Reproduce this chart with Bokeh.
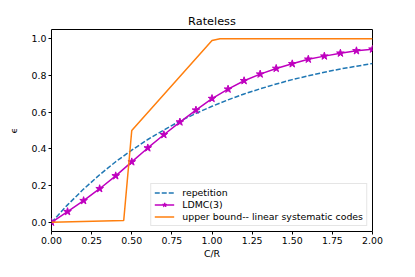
from bokeh.plotting import figure
from bokeh.models import Range1d, FixedTicker, Legend, LegendItem
from bokeh.embed import file_html
from bokeh.resources import INLINE

# ---- data ----
rep_x = [0.0, 0.1, 0.2, 0.3, 0.4, 0.5, 0.6, 0.7, 0.8, 0.9, 1.0,
         1.1, 1.2, 1.3, 1.4, 1.5, 1.6, 1.7, 1.8, 1.9, 2.0]
rep_y = [0.0, 0.095, 0.181, 0.259, 0.330, 0.393, 0.451, 0.503, 0.551, 0.593, 0.632,
         0.667, 0.699, 0.727, 0.753, 0.777, 0.798, 0.817, 0.835, 0.850, 0.865]

ldmc_x = [0.0, 0.1, 0.2, 0.3, 0.4, 0.5, 0.6, 0.7, 0.8, 0.9, 1.0,
          1.1, 1.2, 1.3, 1.4, 1.5, 1.6, 1.7, 1.8, 1.9, 2.0]
ldmc_y = [0.0, 0.058, 0.118, 0.183, 0.253, 0.329, 0.405, 0.477, 0.546, 0.611, 0.674,
          0.725, 0.771, 0.807, 0.838, 0.863, 0.888, 0.905, 0.921, 0.934, 0.943]

ub_x = [0.0, 0.45, 0.5, 1.0, 1.05, 2.0]
ub_y = [0.0, 0.01, 0.5, 0.99, 1.0, 1.0]

xticks = [0.0, 0.25, 0.5, 0.75, 1.0, 1.25, 1.5, 1.75, 2.0]
xtick_labels = ["0.00", "0.25", "0.50", "0.75", "1.00", "1.25", "1.50", "1.75", "2.00"]
yticks = [0.0, 0.2, 0.4, 0.6, 0.8, 1.0]
ytick_labels = ["0.0", "0.2", "0.4", "0.6", "0.8", "1.0"]

title_text = "Rateless"
xlabel = "C/R"
ylabel = "\u03f5"
labels = ["repetition", "LDMC(3)", "upper bound-- linear systematic codes"]

FONT = "DejaVu Sans"
FS = "9.4px"

p = figure(width=399, height=261, output_backend="svg", toolbar_location=None,
           x_range=Range1d(0, 2), y_range=Range1d(-0.05, 1.05),
           title=title_text)
p.min_border_left = 51
p.min_border_right = 27
p.min_border_top = 29
p.min_border_bottom = 20
p.background_fill_color = "white"
p.border_fill_color = "white"
p.outline_line_color = "black"
p.outline_line_width = 1
p.grid.visible = False

p.title.text_font = FONT
p.title.text_font_size = "11.3px"
p.title.text_font_style = "normal"
p.title.align = "center"
p.title.text_color = "black"
p.title.standoff = 4

for ax, ticks, labs, lab in ((p.xaxis[0], xticks, xtick_labels, xlabel),
                            (p.yaxis[0], yticks, ytick_labels, ylabel)):
    ax.ticker = FixedTicker(ticks=ticks)
    ax.major_label_overrides = {t: l for t, l in zip(ticks, labs)}
    ax.major_label_text_font = FONT
    ax.major_label_text_font_size = FS
    ax.major_label_text_color = "black"
    ax.axis_label = lab
    ax.axis_label_text_font = FONT
    ax.axis_label_text_font_size = FS
    ax.axis_label_text_font_style = "normal"
    ax.axis_label_text_color = "black"
    ax.major_tick_out = 3
    ax.major_tick_in = 0
    ax.minor_tick_out = 0
    ax.minor_tick_in = 0
    ax.major_tick_line_color = "black"
    ax.axis_line_color = None
    ax.major_label_standoff = 2
    ax.axis_label_standoff = 1

p.yaxis[0].axis_label_standoff = 10

r1 = p.line(rep_x, rep_y, line_color="#1f77b4", line_width=1.5, line_dash="5 2")
r2 = p.line(ldmc_x, ldmc_y, line_color="#bf00bf", line_width=1.5)
r2m = p.scatter(ldmc_x, ldmc_y, marker="star", size=8, fill_color="#bf00bf",
                line_color="#bf00bf")
r3 = p.line(ub_x, ub_y, line_color="#ff7f0e", line_width=1.5)

legend = Legend(items=[LegendItem(label=labels[0], renderers=[r1]),
                       LegendItem(label=labels[1], renderers=[r2, r2m]),
                       LegendItem(label=labels[2], renderers=[r3])],
                location="bottom_right")
legend.label_text_font = FONT
legend.label_text_font_size = FS
legend.label_text_color = "black"
legend.glyph_width = 20
legend.glyph_height = 11
legend.label_height = 11
legend.label_standoff = 8
legend.spacing = 1
legend.padding = 3
legend.margin = 5
legend.border_line_color = "#cccccc"
legend.border_line_width = 1
legend.background_fill_alpha = 0.8
p.add_layout(legend)

open("out.html", "w").write(file_html(p, INLINE))
